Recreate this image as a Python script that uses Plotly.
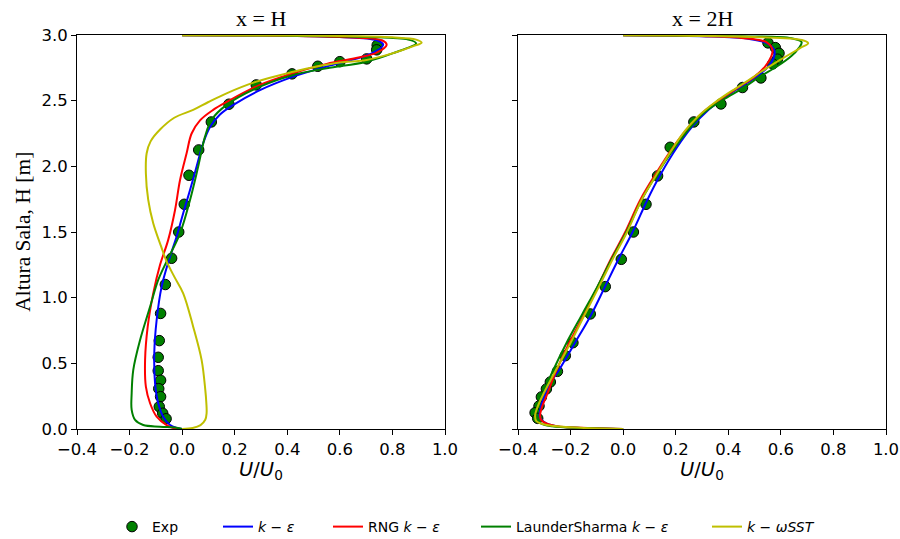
import plotly.graph_objects as go

# ---------------- Experimental data ----------------
# x = H
exp_h_u = [0.742, 0.740, 0.702, 0.600, 0.516, 0.418, 0.282, 0.178, 0.111, 0.063,
           0.026, 0.008, -0.013, -0.040, -0.064, -0.082, -0.087, -0.091, -0.091,
           -0.082, -0.089, -0.082, -0.087, -0.074, -0.061]
exp_h_y = [2.922, 2.887, 2.818, 2.797, 2.762, 2.704, 2.620, 2.473, 2.338, 2.125,
           1.932, 1.711, 1.500, 1.300, 1.100, 0.880, 0.673, 0.546, 0.444,
           0.371, 0.307, 0.246, 0.170, 0.120, 0.078]
# x = 2H
exp_2h_u = [0.551, 0.579, 0.593, 0.587, 0.569, 0.524, 0.454, 0.372, 0.269, 0.179,
            0.131, 0.087, 0.039, -0.007, -0.068, -0.125, -0.191, -0.220, -0.250,
            -0.277, -0.292, -0.311, -0.320, -0.335, -0.325]
exp_2h_y = [2.940, 2.904, 2.861, 2.816, 2.780, 2.673, 2.600, 2.475, 2.338, 2.145,
            1.927, 1.711, 1.500, 1.292, 1.084, 0.876, 0.657, 0.558, 0.439,
            0.358, 0.305, 0.244, 0.175, 0.124, 0.081]

# ---------------- Simulated profiles, x = H ----------------
ke_h_u = [0.0, -0.02, -0.046, -0.072, -0.091, -0.103, -0.106, -0.097, -0.078, -0.05,
          -0.021, 0.004, 0.03, 0.055, 0.08, 0.106, 0.144, 0.195, 0.296, 0.423,
          0.55, 0.68, 0.727, 0.765, 0.74, 0.6, 0.3, 0.0]
ke_h_y = [0.0, 0.008, 0.03, 0.094, 0.196, 0.348, 0.577, 0.83, 1.084, 1.287,
          1.465, 1.643, 1.82, 1.998, 2.176, 2.30, 2.395, 2.468, 2.58, 2.683,
          2.76, 2.83, 2.866, 2.925, 2.96, 2.985, 2.996, 2.998]

rng_h_u = [0.0, -0.03, -0.059, -0.097, -0.122, -0.138, -0.141, -0.131, -0.110, -0.084,
           -0.053, -0.027, -0.008, 0.017, 0.036, 0.068, 0.118, 0.169, 0.296, 0.423,
           0.55, 0.676, 0.740, 0.778, 0.76, 0.6, 0.3, 0.0]
rng_h_y = [0.0, 0.005, 0.03, 0.094, 0.196, 0.322, 0.526, 0.779, 1.033, 1.25,
           1.44, 1.668, 1.896, 2.10, 2.25, 2.35, 2.43, 2.49, 2.62, 2.709,
           2.78, 2.83, 2.866, 2.925, 2.96, 2.985, 2.996, 2.998]

ls_h_u = [0.0, -0.021, -0.084, -0.148, -0.179, -0.192, -0.192, -0.186, -0.160, -0.122,
          -0.091, -0.058, -0.008, 0.03, 0.061, 0.087, 0.112, 0.169, 0.296, 0.423,
          0.55, 0.702, 0.80, 0.89, 0.86, 0.7, 0.35, 0.0]
ls_h_y = [0.0, 0.01, 0.018, 0.03, 0.069, 0.145, 0.272, 0.449, 0.678, 0.931,
          1.135, 1.28, 1.49, 1.744, 1.998, 2.226, 2.354, 2.468, 2.607, 2.696,
          2.747, 2.797, 2.86, 2.937, 2.965, 2.985, 2.996, 2.998]

sst_h_u = [0.0, 0.04, 0.07, 0.088, 0.093, 0.092, 0.088, 0.074, 0.042, 0.004,
           -0.03, -0.06, -0.08, -0.11, -0.129, -0.138, -0.135, -0.12, -0.084, -0.03,
           0.042, 0.10, 0.169, 0.283, 0.423, 0.512, 0.60, 0.702, 0.803, 0.88,
           0.911, 0.89, 0.8, 0.6, 0.3, 0.0]
sst_h_y = [0.0, 0.008, 0.03, 0.07, 0.12, 0.2, 0.3, 0.526, 0.779, 1.033,
           1.16, 1.28, 1.39, 1.567, 1.744, 1.947, 2.10, 2.19, 2.28, 2.37,
           2.43, 2.49, 2.556, 2.645, 2.72, 2.76, 2.79, 2.81, 2.862, 2.915,
           2.942, 2.965, 2.982, 2.993, 2.997, 2.998]

# ---------------- Simulated profiles, x = 2H ----------------
ke_2h_u = [0.0, -0.15, -0.25, -0.29, -0.31, -0.318, -0.315, -0.30, -0.275, -0.247,
           -0.183, -0.12, -0.069, -0.016, 0.036, 0.092, 0.14, 0.205, 0.262, 0.325,
           0.39, 0.45, 0.508, 0.552, 0.575, 0.574, 0.55, 0.48, 0.3, 0.0]
ke_2h_y = [0.0, 0.008, 0.02, 0.04, 0.07, 0.1, 0.15, 0.25, 0.36, 0.44,
           0.657, 0.876, 1.084, 1.3, 1.5, 1.744, 1.93, 2.145, 2.30, 2.43,
           2.53, 2.61, 2.683, 2.76, 2.84, 2.89, 2.935, 2.97, 2.99, 2.998]

rng_2h_u = [0.0, -0.12, -0.24, -0.29, -0.312, -0.316, -0.31, -0.29, -0.255, -0.205,
            -0.148, -0.097, -0.045, 0.008, 0.065, 0.12, 0.19, 0.25, 0.315, 0.385,
            0.445, 0.50, 0.54, 0.563, 0.568, 0.545, 0.45, 0.25, 0.0]
rng_2h_y = [0.0, 0.008, 0.018, 0.04, 0.07, 0.1, 0.16, 0.26, 0.44, 0.657,
            0.876, 1.084, 1.3, 1.5, 1.744, 1.93, 2.145, 2.30, 2.43, 2.53,
            2.61, 2.683, 2.76, 2.835, 2.887, 2.945, 2.978, 2.994, 2.998]

ls_2h_u = [0.0, -0.15, -0.27, -0.32, -0.335, -0.33, -0.31, -0.268, -0.215, -0.155,
           -0.098, -0.042, 0.012, 0.07, 0.125, 0.19, 0.245, 0.305, 0.38, 0.455,
           0.52, 0.585, 0.64, 0.668, 0.679, 0.64, 0.45, 0.0]
ls_2h_y = [0.0, 0.008, 0.02, 0.05, 0.1, 0.15, 0.25, 0.44, 0.657, 0.876,
           1.084, 1.3, 1.5, 1.744, 1.93, 2.125, 2.27, 2.404, 2.506, 2.595,
           2.683, 2.76, 2.84, 2.9, 2.945, 2.975, 2.99, 2.998]

sst_2h_u = [0.0, -0.15, -0.29, -0.33, -0.335, -0.325, -0.30, -0.258, -0.2, -0.145,
            -0.092, -0.038, 0.015, 0.07, 0.125, 0.185, 0.235, 0.285, 0.345, 0.40,
            0.46, 0.525, 0.597, 0.673, 0.704, 0.68, 0.5, 0.2, 0.0]
sst_2h_y = [0.0, 0.008, 0.03, 0.06, 0.1, 0.17, 0.28, 0.44, 0.657, 0.876,
            1.084, 1.3, 1.5, 1.744, 1.93, 2.125, 2.27, 2.38, 2.48, 2.557,
            2.633, 2.72, 2.81, 2.90, 2.937, 2.962, 2.985, 2.996, 2.998]

# ---------------- Labels and styles ----------------
panel_titles = ["x = H", "x = 2H"]
models = [
    ("<i>k</i> − <i>ε</i>", "#0000ff"),
    ("RNG <i>k</i> − <i>ε</i>", "#ff0000"),
    ("LaunderSharma <i>k</i> − <i>ε</i>", "#008000"),
    ("<i>k</i> − <i>ωSST</i>", "#bfbf00"),
]
panel_curves = [
    [(ke_h_u, ke_h_y), (rng_h_u, rng_h_y), (ls_h_u, ls_h_y), (sst_h_u, sst_h_y)],
    [(ke_2h_u, ke_2h_y), (rng_2h_u, rng_2h_y), (ls_2h_u, ls_2h_y), (sst_2h_u, sst_2h_y)],
]
panel_exp = [(exp_h_u, exp_h_y), (exp_2h_u, exp_2h_y)]

W, H = 900, 539
sans = "DejaVu Sans"
serif = "Liberation Serif"

fig = go.Figure()

legend_names = ["legend", "legend2", "legend3", "legend4", "legend5"]
for p in range(2):
    xa = "x" if p == 0 else "x2"
    ya = "y" if p == 0 else "y2"
    eu, ey = panel_exp[p]
    fig.add_trace(go.Scatter(
        x=eu, y=ey, mode="markers", name="Exp", xaxis=xa, yaxis=ya,
        marker=dict(color="#008000", size=10.5, line=dict(color="black", width=1)),
        showlegend=(p == 0), legend=legend_names[0],
    ))
    for i, (name, col) in enumerate(models):
        u, y = panel_curves[p][i]
        fig.add_trace(go.Scatter(
            x=u, y=y, mode="lines", name=name, xaxis=xa, yaxis=ya,
            line=dict(color=col, width=2, shape="spline", smoothing=1.0),
            showlegend=(p == 0), legend=legend_names[i + 1],
        ))

axis_common = dict(
    showline=True, mirror=True, linecolor="black", linewidth=1,
    ticks="outside", ticklen=5, tickwidth=1, tickcolor="black",
    showgrid=False, zeroline=False, automargin=False,
    tickfont=dict(family=sans, size=16.5, color="black"),
)

left_px = [77, 518]
right_px = [445, 886]
top_px, bottom_px = 35, 429

fig.update_layout(
    width=W, height=H,
    margin=dict(l=0, r=0, t=0, b=0, pad=0, autoexpand=False),
    paper_bgcolor="white", plot_bgcolor="white",
    xaxis=dict(domain=[left_px[0] / W, right_px[0] / W], range=[-0.4, 1.0],
               tickvals=[-0.4, -0.2, 0.0, 0.2, 0.4, 0.6, 0.8, 1.0], tickformat=".1f",
               anchor="y", **axis_common),
    xaxis2=dict(domain=[left_px[1] / W, right_px[1] / W], range=[-0.4, 1.0],
                tickvals=[-0.4, -0.2, 0.0, 0.2, 0.4, 0.6, 0.8, 1.0], tickformat=".1f",
                anchor="y2", **axis_common),
    yaxis=dict(domain=[1 - bottom_px / H, 1 - top_px / H], range=[0, 3.0],
               tickvals=[0, 0.5, 1.0, 1.5, 2.0, 2.5, 3.0], tickformat=".1f",
               anchor="x", **axis_common),
    yaxis2=dict(domain=[1 - bottom_px / H, 1 - top_px / H], range=[0, 3.0],
                tickvals=[0, 0.5, 1.0, 1.5, 2.0, 2.5, 3.0], showticklabels=False,
                anchor="x2", matches="y", **axis_common),
    showlegend=True,
)

# one legend box per entry, laid out in a row under the panels
legend_x_px = [112, 218, 328, 476, 707]
legend_y = 1 - 527 / H
for ln, xp in zip(legend_names, legend_x_px):
    fig.update_layout({ln: dict(
        x=xp / W, y=legend_y, xanchor="left", yanchor="middle",
        orientation="h", bgcolor="rgba(0,0,0,0)", borderwidth=0,
        font=dict(family=sans, size=14, color="black"),
    )})

annotations = []
centers = [(left_px[k] + right_px[k]) / 2 for k in range(2)]
for k in range(2):
    annotations.append(dict(
        text=panel_titles[k], x=centers[k] / W, y=1 - 18 / H,
        xref="paper", yref="paper", showarrow=False,
        xanchor="center", yanchor="middle",
        font=dict(family=serif, size=22, color="black"),
    ))
    annotations.append(dict(
        text="<i>U</i>/<i>U</i><sub>0</sub>", x=centers[k] / W, y=1 - 470 / H,
        xref="paper", yref="paper", showarrow=False,
        xanchor="center", yanchor="middle",
        font=dict(family=sans, size=19.5, color="black"),
    ))
annotations.append(dict(
    text="Altura Sala, H [m]", x=23 / W, y=1 - 231.7 / H,
    xref="paper", yref="paper", showarrow=False, textangle=-90,
    xanchor="center", yanchor="middle",
    font=dict(family=serif, size=21.5, color="black"),
))
fig.update_layout(annotations=annotations)

fig.write_html("out.html")
